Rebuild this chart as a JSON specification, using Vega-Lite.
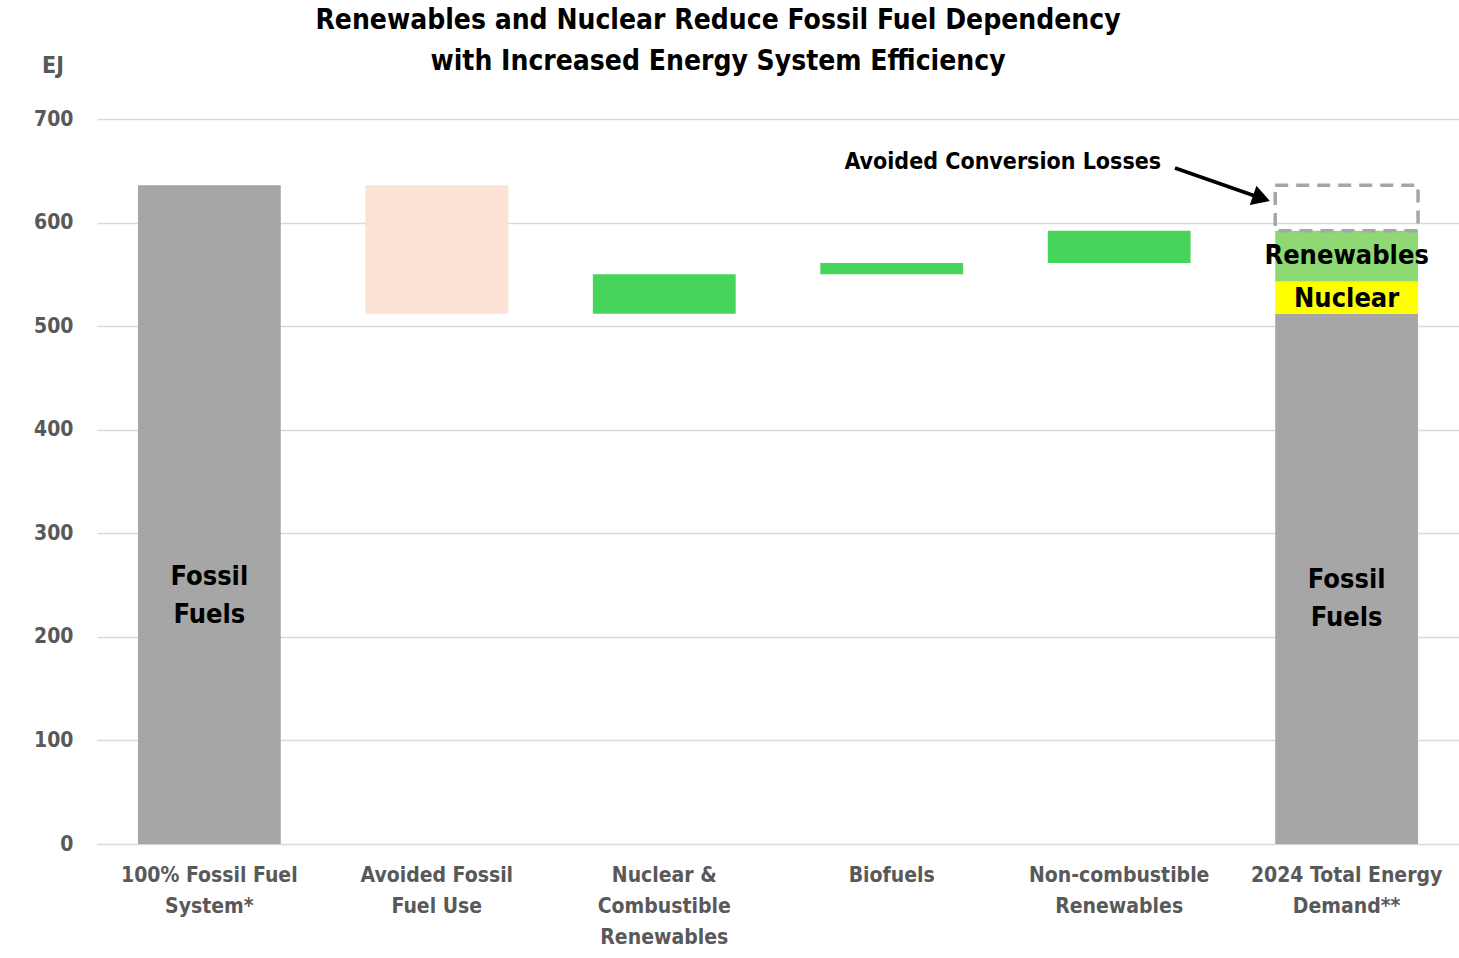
{
  "$schema": "https://vega.github.io/schema/vega-lite/v6.json",
  "width": 1362,
  "height": 725,
  "autosize": {"type": "none"},
  "padding": {"left": 97, "top": 119, "right": 0, "bottom": 114},
  "background": "white",
  "config": {"view": {"stroke": null}, "font": "DejaVu Sans Condensed, Roboto, sans-serif"},
  "title": {
    "text": ["Renewables and Nuclear Reduce Fossil Fuel Dependency", "with Increased Energy System Efficiency"],
    "font": "DejaVu Sans Condensed, Roboto, sans-serif",
    "fontSize": 28,
    "fontWeight": "bold",
    "color": "#000000",
    "lineHeight": 41,
    "anchor": "middle",
    "dx": -60,
    "offset": -21
  },
  "datasets": {
    "segments": [
      {"cat": "100% Fossil Fuel|System*", "lo": 0, "hi": 636, "part": "Fossil Fuels"},
      {"cat": "Avoided Fossil|Fuel Use", "lo": 512, "hi": 636, "part": "Avoided Fossil Fuel Use"},
      {"cat": "Nuclear &|Combustible|Renewables", "lo": 512, "hi": 550, "part": "Added"},
      {"cat": "Biofuels", "lo": 550, "hi": 561, "part": "Added"},
      {"cat": "Non-combustible|Renewables", "lo": 561, "hi": 592, "part": "Added"},
      {"cat": "2024 Total Energy|Demand**", "lo": 0, "hi": 512, "part": "Fossil Fuels"},
      {"cat": "2024 Total Energy|Demand**", "lo": 512, "hi": 543, "part": "Nuclear"},
      {"cat": "2024 Total Energy|Demand**", "lo": 543, "hi": 592, "part": "Renewables"},
      {"cat": "2024 Total Energy|Demand**", "lo": 592, "hi": 636, "part": "Avoided Conversion Losses"}
    ],
    "labels": [
      {"cat": "100% Fossil Fuel|System*", "y": 258, "label": "Fossil\nFuels"},
      {"cat": "2024 Total Energy|Demand**", "y": 255, "label": "Fossil\nFuels"},
      {"cat": "2024 Total Energy|Demand**", "y": 567.5, "label": "Renewables"},
      {"cat": "2024 Total Energy|Demand**", "y": 526, "label": "Nuclear"}
    ],
    "annotation": [
      {"x": 3.99, "y": 658.5, "label": "Avoided Conversion Losses"},
      {"x": -0.194, "y": 751, "label": "EJ"}
    ],
    "arrow": [
      {"x": 4.749, "y": 652.7, "x2": 5.13, "y2": 623.5}
    ],
    "arrowhead": [
      {"x": 5.13, "y": 623.5}
    ]
  },
  "layer": [
    {
      "encoding": {
        "x": {
          "field": "cat",
          "type": "nominal",
          "sort": null,
          "scale": {
            "domain": ["100% Fossil Fuel|System*", "Avoided Fossil|Fuel Use", "Nuclear &|Combustible|Renewables", "Biofuels", "Non-combustible|Renewables", "2024 Total Energy|Demand**"],
            "paddingInner": 0.372,
            "paddingOuter": 0.18
          },
          "axis": {
            "title": null,
            "labelAngle": 0,
            "labelExpr": "split(datum.label, '|')",
            "labelFont": "DejaVu Sans Condensed, Roboto, sans-serif",
            "labelFontSize": 21,
            "labelFontWeight": "bold",
            "labelColor": "#595959",
            "labelLineHeight": 31,
            "labelPadding": 20,
            "labelBaseline": "top",
            "labelLimit": 0,
            "labelOverlap": false,
            "domain": false,
            "ticks": false,
            "grid": false
          }
        }
      },
      "layer": [
        {
          "data": {"name": "segments"},
          "transform": [{"filter": "datum.part != 'Avoided Conversion Losses'"}],
          "mark": {"type": "bar"},
          "encoding": {
            "y": {
              "field": "lo",
              "type": "quantitative",
              "scale": {"domain": [0, 700], "nice": false},
              "axis": {
                "title": null,
                "values": [0, 100, 200, 300, 400, 500, 600, 700],
                "labelFont": "DejaVu Sans Condensed, Roboto, sans-serif",
                "labelFontSize": 21,
                "labelFontWeight": "bold",
                "labelColor": "#595959",
                "labelPadding": 24,
                "domain": false,
                "ticks": false,
                "grid": true,
                "gridColor": "#D9D9D9",
                "gridWidth": 1.5
              }
            },
            "y2": {"field": "hi"},
            "color": {
              "field": "part",
              "type": "nominal",
              "scale": {
                "domain": ["Fossil Fuels", "Avoided Fossil Fuel Use", "Added", "Nuclear", "Renewables"],
                "range": ["#A6A6A6", "#FBE2D5", "#47D45A", "#FFFF00", "#8ED973"]
              },
              "legend": null
            }
          }
        },
        {
          "data": {"name": "segments"},
          "transform": [{"filter": "datum.part == 'Avoided Conversion Losses'"}],
          "mark": {"type": "bar", "fill": null, "fillOpacity": 0, "stroke": "#A6A6A6", "strokeWidth": 3.5, "strokeDash": [13, 8]},
          "encoding": {
            "y": {"field": "lo", "type": "quantitative"},
            "y2": {"field": "hi"}
          }
        },
        {
          "data": {"name": "labels"},
          "mark": {"type": "text", "font": "DejaVu Sans Condensed, Roboto, sans-serif", "fontSize": 27, "fontWeight": "bold", "color": "#000000", "lineBreak": "\n", "lineHeight": 38, "align": "center", "baseline": "middle"},
          "encoding": {
            "y": {"field": "y", "type": "quantitative"},
            "text": {"field": "label"}
          }
        }
      ]
    },
    {
      "encoding": {
        "x": {"field": "x", "type": "quantitative", "scale": {"domain": [0, 6], "nice": false, "zero": false}, "axis": null}
      },
      "layer": [
        {
          "data": {"name": "annotation"},
          "mark": {"type": "text", "font": "DejaVu Sans Condensed, Roboto, sans-serif", "fontSize": 23, "fontWeight": "bold", "align": "center", "baseline": "middle"},
          "encoding": {
            "y": {"field": "y", "type": "quantitative"},
            "text": {"field": "label"},
            "color": {
              "field": "label",
              "type": "nominal",
              "scale": {"domain": ["Avoided Conversion Losses", "EJ"], "range": ["#000000", "#595959"]},
              "legend": null
            }
          }
        },
        {
          "data": {"name": "arrow"},
          "mark": {"type": "rule", "color": "#000000", "strokeWidth": 3.5},
          "encoding": {
            "y": {"field": "y", "type": "quantitative"},
            "x2": {"field": "x2"},
            "y2": {"field": "y2"}
          }
        },
        {
          "data": {"name": "arrowhead"},
          "mark": {"type": "point", "shape": "triangle-right", "filled": true, "color": "#000000", "size": 420, "angle": 19, "opacity": 1},
          "encoding": {
            "y": {"field": "y", "type": "quantitative"}
          }
        }
      ]
    }
  ],
  "resolve": {"scale": {"x": "independent", "color": "independent"}}
}
